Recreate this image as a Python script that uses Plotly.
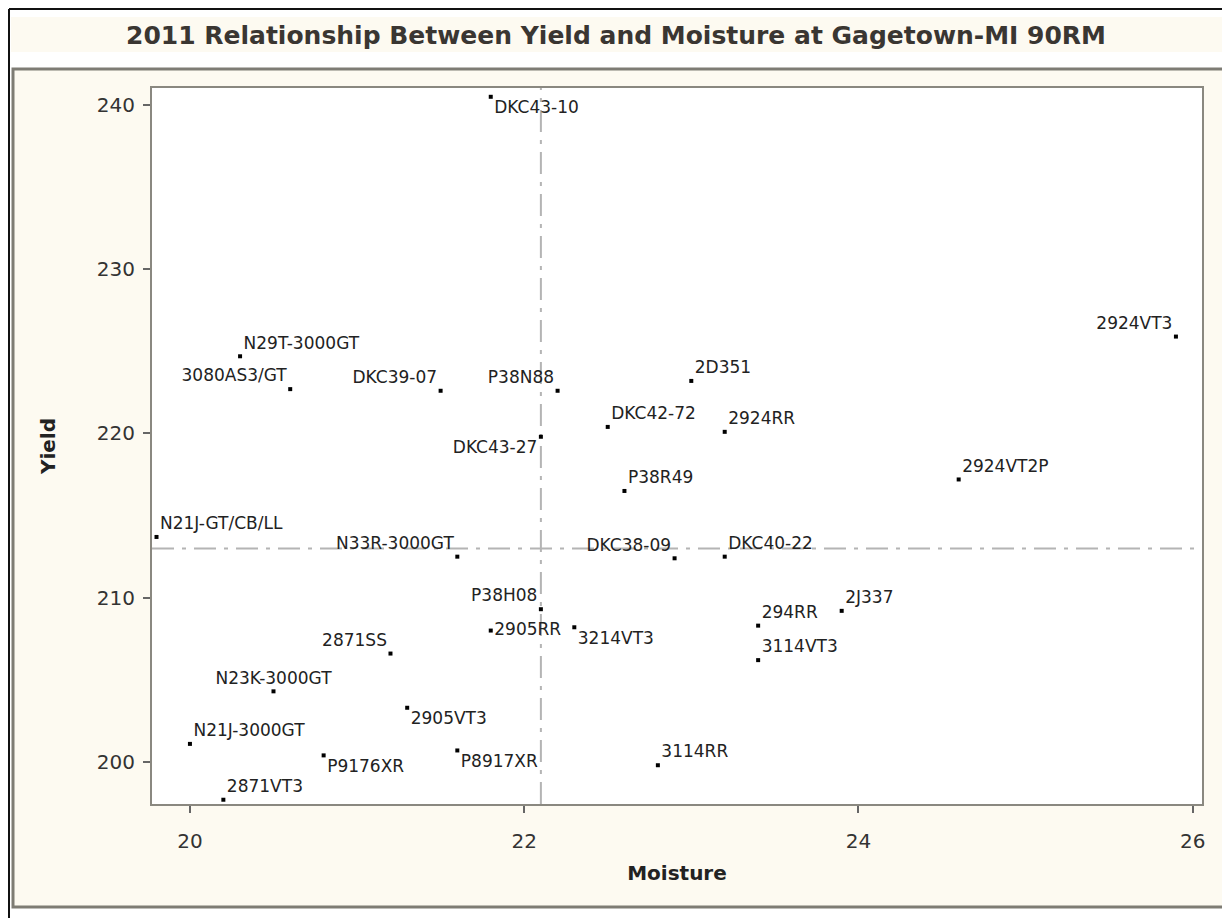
import plotly.graph_objects as go

# ---- data ----
hybrids = ["DKC43-10", "2924VT3", "N29T-3000GT", "3080AS3/GT", "DKC39-07", "P38N88",
           "2D351", "DKC42-72", "2924RR", "DKC43-27", "P38R49", "2924VT2P",
           "N21J-GT/CB/LL", "N33R-3000GT", "DKC38-09", "DKC40-22", "P38H08", "2905RR",
           "3214VT3", "294RR", "2J337", "3114VT3", "2871SS", "N23K-3000GT", "2905VT3",
           "N21J-3000GT", "P9176XR", "P8917XR", "3114RR", "2871VT3"]
moisture = [21.8, 25.9, 20.3, 20.6, 21.5, 22.2,
            23.0, 22.5, 23.2, 22.1, 22.6, 24.6,
            19.8, 21.6, 22.9, 23.2, 22.1, 21.8,
            22.3, 23.4, 23.9, 23.4, 21.2, 20.5, 21.3,
            20.0, 20.8, 21.6, 22.8, 20.2]
yield_ = [240.5, 225.9, 224.7, 222.7, 222.6, 222.6,
          223.2, 220.4, 220.1, 219.8, 216.5, 217.2,
          213.7, 212.5, 212.4, 212.5, 209.3, 208.0,
          208.2, 208.3, 209.2, 206.2, 206.6, 204.3, 203.3,
          201.1, 200.4, 200.7, 199.8, 197.7]
label_pos = ["bottom right", "top left", "top right", "top left", "top left", "top left",
             "top right", "top right", "top right", "bottom left", "top right", "top right",
             "top right", "top left", "top left", "top right", "top left", "middle right",
             "bottom right", "top right", "top right", "top right", "top left", "top center", "bottom right",
             "top right", "bottom right", "bottom right", "top right", "top right"]
mean_moisture = 22.1
mean_yield = 213.0
x_ticks = [20, 22, 24, 26]
y_ticks = [200, 210, 220, 230, 240]

title_text = "2011 Relationship Between Yield and Moisture at Gagetown-MI 90RM"

# ---- layout geometry (page pixels; the page body has an 8px margin) ----
O = 8
W, H = 1230 - O, 918 - O
L, R, T, B = 152 - O, 28, 88 - O, 114
PW, PH = W - L - R, H - T - B


def px(x):
    return (x - O - L) / PW


def py(y):
    return (H - B - (y - O)) / PH


CREAM = "#FDFAF1"
TXT = "#333333"
FONT = "DejaVu Sans"

fig = go.Figure()
fig.add_trace(go.Scatter(
    x=moisture, y=yield_, text=hybrids, mode="markers+text",
    textposition=label_pos,
    marker=dict(symbol="square", size=4, color="black"),
    textfont=dict(family=FONT, size=17, color="#222222"),
    cliponaxis=False, hoverinfo="text+x+y", showlegend=False,
))

shapes = [
    # outer black border (left and top)
    dict(type="line", xref="paper", yref="paper", x0=px(9), x1=px(9), y0=py(9), y1=py(918),
         line=dict(color="#111111", width=2), layer="below"),
    dict(type="line", xref="paper", yref="paper", x0=px(9), x1=px(1230), y0=py(9), y1=py(9),
         line=dict(color="#111111", width=2), layer="below"),
    # title band
    dict(type="rect", xref="paper", yref="paper", x0=px(11), x1=px(1228), y0=py(52), y1=py(17),
         fillcolor=CREAM, line=dict(width=0), layer="below"),
    # inner frame
    dict(type="rect", xref="paper", yref="paper", x0=px(13), x1=px(1225), y0=py(907), y1=py(69),
         fillcolor=CREAM, line=dict(color="#7e7c74", width=3), layer="below"),
    # plot background
    dict(type="rect", xref="paper", yref="paper", x0=0, x1=1, y0=0, y1=1,
         fillcolor="white", line=dict(width=0), layer="below"),
    # reference lines
    dict(type="line", xref="x", yref="paper", x0=mean_moisture, x1=mean_moisture, y0=0, y1=1,
         line=dict(color="#b4b4b4", width=2, dash="22px,8px,4px,8px"), layer="below"),
    dict(type="line", xref="paper", yref="y", x0=0, x1=1, y0=mean_yield, y1=mean_yield,
         line=dict(color="#b4b4b4", width=2, dash="22px,8px,4px,8px"), layer="below"),
]

fig.update_layout(
    width=W, height=H,
    margin=dict(l=L, r=R, t=T, b=B, pad=0),
    paper_bgcolor="white", plot_bgcolor="rgba(0,0,0,0)",
    shapes=shapes,
    title=dict(text="<b>" + title_text + "</b>", x=(616 - O) / W, xref="container", xanchor="center",
               y=1 - (35 - O) / H, yref="container", yanchor="middle",
               font=dict(family=FONT, size=25, color="#3a3632")),
    xaxis=dict(range=[19.773, 26.056], tickvals=x_ticks, ticks="outside", ticklen=7,
               tickwidth=1.5, tickcolor="#666666", showgrid=False, zeroline=False,
               showline=True, mirror=True, linecolor="#8a8880", linewidth=2,
               ticklabelstandoff=11,
               tickfont=dict(family=FONT, size=20, color=TXT),
               title=dict(text="<b>Moisture</b>", standoff=14,
                          font=dict(family=FONT, size=20, color="#222222"))),
    yaxis=dict(range=[197.44, 241.035], tickvals=y_ticks, ticks="outside", ticklen=7,
               tickwidth=1.5, tickcolor="#666666", showgrid=False, zeroline=False,
               showline=True, mirror=True, linecolor="#8a8880", linewidth=2,
               ticklabelstandoff=4,
               tickfont=dict(family=FONT, size=20, color=TXT),
               title=dict(text="<b>Yield</b>", standoff=36,
                          font=dict(family=FONT, size=20, color="#222222"))),
)

fig.write_html("out.html")
